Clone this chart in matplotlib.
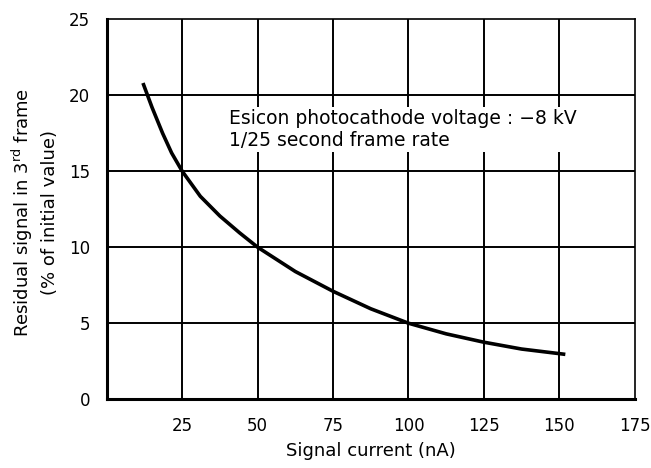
import matplotlib
matplotlib.use("Agg")
import matplotlib.pyplot as plt

# curve
current_na = [12, 15, 18.5, 21.5, 25, 31, 37.5, 44, 50, 62.5, 75, 87.5, 100, 112.5, 125, 137.5, 152]
residual_pct = [20.8, 19.2, 17.5, 16.2, 15.0, 13.35, 12.05, 10.95, 10.0, 8.4, 7.1, 5.95, 5.0, 4.3, 3.75, 3.3, 2.95]

x_ticks = [25, 50, 75, 100, 125, 150, 175]
y_ticks = [0, 5, 10, 15, 20, 25]
note = "Esicon photocathode voltage : \u22128 kV\n1/25 second frame rate"

fig = plt.figure(figsize=(6.51, 4.68), dpi=100)
ax = fig.add_axes([0.164, 0.147, 0.811, 0.812])

ax.set_xlim(0, 175)
ax.set_ylim(0, 25)

for xv in x_ticks[:-1]:
    ax.axvline(xv, color="black", lw=1.4, zorder=1)
for yv in y_ticks[1:-1]:
    ax.axhline(yv, color="black", lw=1.4, zorder=1)

ax.plot(current_na, residual_pct, color="black", lw=2.6, solid_capstyle="butt",
        solid_joinstyle="round", zorder=3)

ax.text(40.5, 17.75, note, fontsize=13.5, va="center", ha="left", linespacing=1.25,
        bbox=dict(facecolor="white", edgecolor="none", pad=1), zorder=2)

ax.set_xticks(x_ticks)
ax.set_yticks(y_ticks)
ax.tick_params(length=0, labelsize=12)
ax.tick_params(axis="x", pad=13)
ax.tick_params(axis="y", pad=12)

ax.spines["left"].set_linewidth(2.2)
ax.spines["bottom"].set_linewidth(2.2)
ax.spines["top"].set_linewidth(1.2)
ax.spines["right"].set_linewidth(1.2)

ax.set_xlabel("Signal current (nA)", fontsize=13, labelpad=5)
fig.text(0.053, 0.545, "Residual signal in 3$^{\\rm rd}$ frame\n(% of initial value)",
         rotation=90, fontsize=13, ha="center", va="center", multialignment="center",
         linespacing=1.4)

fig.savefig("out.png", dpi=100)
